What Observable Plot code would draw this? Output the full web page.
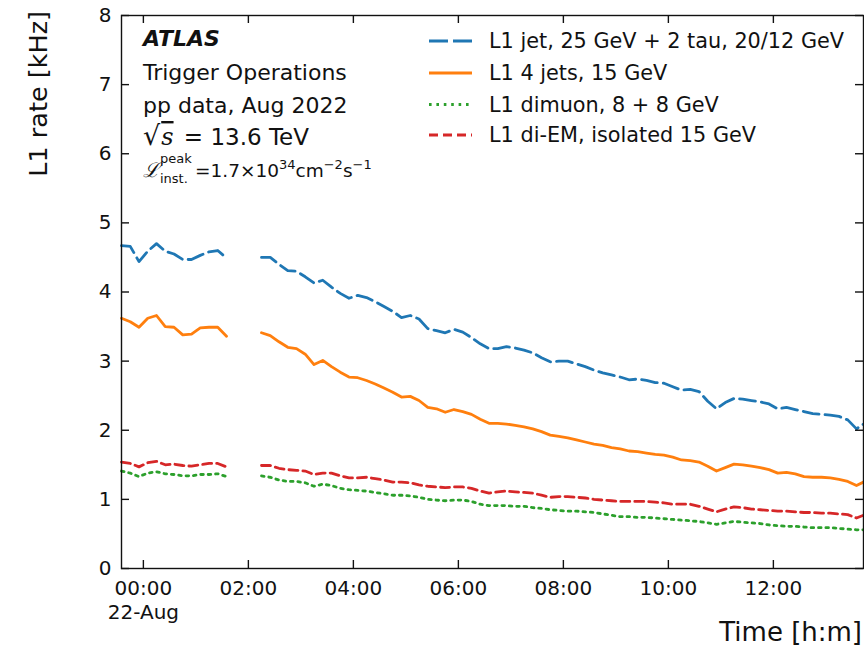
<!DOCTYPE html>
<html><head><meta charset="utf-8">
<script src="https://cdn.jsdelivr.net/npm/d3@7"></script>
<script src="https://cdn.jsdelivr.net/npm/@observablehq/plot@0.6"></script>
<style>body{margin:0;background:#fff}</style>
</head><body><div id="chart"></div>
<script>
// ---- data ----
const times = [
"23:35","23:45","23:55","00:05","00:15","00:25","00:35","00:45","00:55","01:05","01:15","01:25","01:35",
"01:45","01:55","02:05",
"02:15","02:25","02:35","02:45","02:55","03:05","03:15","03:25","03:35","03:45",
"03:55","04:05","04:15","04:25","04:35","04:45","04:55","05:05","05:15","05:25",
"05:35","05:45","05:55","06:05","06:15","06:25","06:35","06:45","06:55","07:05",
"07:15","07:25","07:35","07:45","07:55","08:05","08:15","08:25","08:35","08:45",
"08:55","09:05","09:15","09:25","09:35","09:45","09:55","10:05","10:15","10:25",
"10:35","10:45","10:55","11:05","11:15","11:25","11:35","11:45","11:55","12:05",
"12:15","12:25","12:35","12:45","12:55","13:05","13:15","13:25","13:35","13:43"];

const jetTau = [
4.67,4.66,4.44,4.59,4.70,4.59,4.55,4.47,4.47,4.53,4.58,4.60,4.49,
null,null,null,
4.50,4.50,4.40,4.31,4.30,4.22,4.13,4.17,4.07,3.98,
3.91,3.95,3.92,3.86,3.79,3.72,3.63,3.66,3.61,3.47,
3.44,3.41,3.46,3.42,3.34,3.25,3.18,3.18,3.21,3.19,
3.16,3.12,3.05,2.99,3.00,3.00,2.96,2.92,2.87,2.83,
2.80,2.77,2.73,2.74,2.72,2.69,2.68,2.63,2.58,2.59,
2.56,2.42,2.31,2.40,2.46,2.45,2.43,2.41,2.38,2.31,
2.33,2.30,2.27,2.24,2.23,2.22,2.20,2.15,2.02,2.09];

const fourJets = [
3.62,3.57,3.49,3.62,3.66,3.50,3.49,3.38,3.39,3.48,3.49,3.49,3.36,
null,null,null,
3.41,3.37,3.28,3.20,3.18,3.10,2.95,3.01,2.92,2.84,
2.77,2.76,2.72,2.67,2.61,2.55,2.48,2.49,2.43,2.33,
2.31,2.26,2.30,2.27,2.23,2.16,2.10,2.10,2.09,2.07,
2.05,2.02,1.98,1.93,1.91,1.89,1.86,1.83,1.80,1.78,
1.75,1.73,1.70,1.69,1.67,1.65,1.64,1.61,1.57,1.56,
1.54,1.48,1.41,1.46,1.51,1.50,1.48,1.46,1.43,1.38,
1.39,1.37,1.33,1.32,1.32,1.31,1.29,1.26,1.20,1.25];

const dimuon = [
1.41,1.38,1.33,1.38,1.40,1.37,1.36,1.34,1.34,1.36,1.36,1.37,1.33,
null,null,null,
1.34,1.32,1.28,1.26,1.26,1.24,1.19,1.22,1.20,1.16,
1.14,1.13,1.12,1.10,1.08,1.06,1.06,1.05,1.03,1.00,
0.99,0.98,0.99,0.99,0.97,0.93,0.91,0.91,0.91,0.90,
0.90,0.88,0.87,0.85,0.84,0.83,0.83,0.82,0.81,0.79,
0.77,0.75,0.75,0.74,0.74,0.73,0.72,0.71,0.70,0.69,
0.68,0.66,0.64,0.66,0.68,0.67,0.66,0.65,0.63,0.62,
0.61,0.61,0.60,0.59,0.59,0.59,0.58,0.57,0.56,0.56];

const diEM = [
1.54,1.52,1.47,1.53,1.55,1.50,1.51,1.49,1.48,1.50,1.52,1.52,1.47,
null,null,null,
1.49,1.49,1.45,1.43,1.42,1.41,1.36,1.38,1.38,1.34,
1.31,1.31,1.32,1.30,1.28,1.25,1.25,1.24,1.21,1.19,
1.18,1.17,1.18,1.18,1.16,1.12,1.09,1.11,1.12,1.11,
1.10,1.09,1.06,1.03,1.04,1.04,1.03,1.02,1.00,0.99,
0.98,0.97,0.97,0.97,0.97,0.96,0.95,0.93,0.93,0.93,
0.90,0.86,0.82,0.86,0.89,0.88,0.86,0.85,0.84,0.83,
0.83,0.82,0.81,0.81,0.80,0.80,0.79,0.78,0.73,0.77];

const seriesNames = ["L1 jet, 25 GeV + 2 tau, 20/12 GeV","L1 4 jets, 15 GeV","L1 dimuon, 8 + 8 GeV","L1 di-EM, isolated 15 GeV"];
const seriesColors = ["#1f77b4","#ff7f0e","#2ca02c","#d62728"];
const seriesDash = ["16,6",null,"2.6,4.8","9,5"];
const xTickLabels = ["00:00","02:00","04:00","06:00","08:00","10:00","12:00"];
const yTicks = [0,1,2,3,4,5,6,7,8];
const xDomain = ["23:35","13:43"];

// ---- helpers ----
function toDate(hm){const [h,m]=hm.split(":").map(Number);return new Date(Date.UTC(2022,7,h>=20?21:22,h,m));}
const seriesValues = [jetTau, fourJets, dimuon, diEM];
const rows = [];
seriesValues.forEach((vals,s)=>times.forEach((t,i)=>rows.push({time:toDate(t), value:vals[i], s})));
const fmtHM = d3.utcFormat("%H:%M");
const tickFmt = d => fmtHM(d) === "00:00" ? "00:00\n" + d3.utcFormat("%d-%b")(d) : fmtHM(d);
const xTicks = xTickLabels.map(toDate);

const W = 864, H = 647, mL = 121, mR = 1, mT = 15, mB = 79, tickLen = 8;
const frameW = W - mL - mR, frameH = H - mT - mB;

const lineMarks = seriesValues.map((_,s)=>Plot.lineY(rows.filter(r=>r.s===s),{
  x:"time", y:"value", stroke: seriesColors[s], strokeWidth: 2.8,
  strokeDasharray: seriesDash[s] || undefined, strokeLinejoin:"round"
}));

const svg = Plot.plot({
  width: W, height: H,
  marginLeft: mL, marginRight: mR, marginTop: mT, marginBottom: mB,
  style: {fontFamily: "DejaVu Sans", fontSize: "20px", color: "#111", background: "#fff"},
  x: {type: "utc", domain: xDomain.map(toDate)},
  y: {domain: [0, 8]},
  marks: [
    ...lineMarks,
    // inward ticks on all four sides
    Plot.tickX(xTicks, {x: d => d, insetTop: frameH - tickLen, stroke: "#111", strokeWidth: 1.4}),
    Plot.tickX(xTicks, {x: d => d, insetBottom: frameH - tickLen, stroke: "#111", strokeWidth: 1.4}),
    Plot.tickY(yTicks, {y: d => d, insetRight: frameW - tickLen, stroke: "#111", strokeWidth: 1.4}),
    Plot.tickY(yTicks, {y: d => d, insetLeft: frameW - tickLen, stroke: "#111", strokeWidth: 1.4}),
    Plot.frame({stroke: "#111", strokeWidth: 1.4}),
    Plot.axisX({anchor: "bottom", ticks: xTicks, tickSize: 0, tickPadding: 9, tickFormat: tickFmt, label: null, lineHeight: 1.22, fontSize: 20}),
    Plot.axisY({anchor: "left", ticks: yTicks, tickSize: 0, tickPadding: 10, label: null, fontSize: 20})
  ]
});
document.getElementById("chart").appendChild(svg);

const g = d3.select(svg).append("g").attr("font-family","DejaVu Sans").attr("fill","#111").attr("text-anchor","start");
// axis labels
g.append("text").attr("transform","translate(47,11) rotate(-90)").attr("text-anchor","end")
  .attr("font-size",25.5).text("L1 rate [kHz]");
g.append("text").attr("x",862).attr("y",641).attr("text-anchor","end").attr("font-size",26).text("Time [h:m]");

// annotation
g.append("text").attr("x",143).attr("y",46).attr("font-size",22).attr("font-weight","bold").attr("font-style","italic").text("ATLAS");
g.append("text").attr("x",143).attr("y",80).attr("font-size",22).text("Trigger Operations");
g.append("text").attr("x",143).attr("y",113).attr("font-size",22).text("pp data, Aug 2022");
const t4 = g.append("text").attr("x",143).attr("y",145).attr("font-size",23);
t4.append("tspan").attr("font-size",27).attr("font-family","DejaVu Serif").text("\u221A");
t4.append("tspan").attr("font-style","italic").attr("font-family","DejaVu Serif").attr("font-size",24).attr("dx",1).attr("text-decoration","overline").text("s");
t4.append("tspan").attr("dx",3).text(" = 13.6 TeV");
g.append("text").attr("x",143).attr("y",177).attr("font-size",20).attr("font-style","italic").attr("font-family","DejaVu Serif").text("\u2112");
g.append("text").attr("x",160).attr("y",163).attr("font-size",13).text("peak");
g.append("text").attr("x",160).attr("y",183).attr("font-size",13).text("inst.");
const t5 = g.append("text").attr("x",195).attr("y",177).attr("font-size",18.5);
t5.append("tspan").text("=1.7\u00D710");
t5.append("tspan").attr("dy",-8).attr("font-size",13).text("34");
t5.append("tspan").attr("dy",8).text("cm");
t5.append("tspan").attr("dy",-8).attr("font-size",13).text("\u22122");
t5.append("tspan").attr("dy",8).text("s");
t5.append("tspan").attr("dy",-8).attr("font-size",13).text("\u22121");

// legend
const legBase = [48, 80, 111.5, 142];
seriesNames.forEach((name,i)=>{
  const l = g.append("line").attr("x1",429).attr("x2",472).attr("y1",legBase[i]-7).attr("y2",legBase[i]-7)
    .attr("stroke",seriesColors[i]).attr("stroke-width",2.8);
  if (seriesDash[i]) l.attr("stroke-dasharray", i===0 ? "19,5" : seriesDash[i]);
  g.append("text").attr("x",489).attr("y",legBase[i]).attr("font-size",20.8).text(name);
});
</script></body></html>
